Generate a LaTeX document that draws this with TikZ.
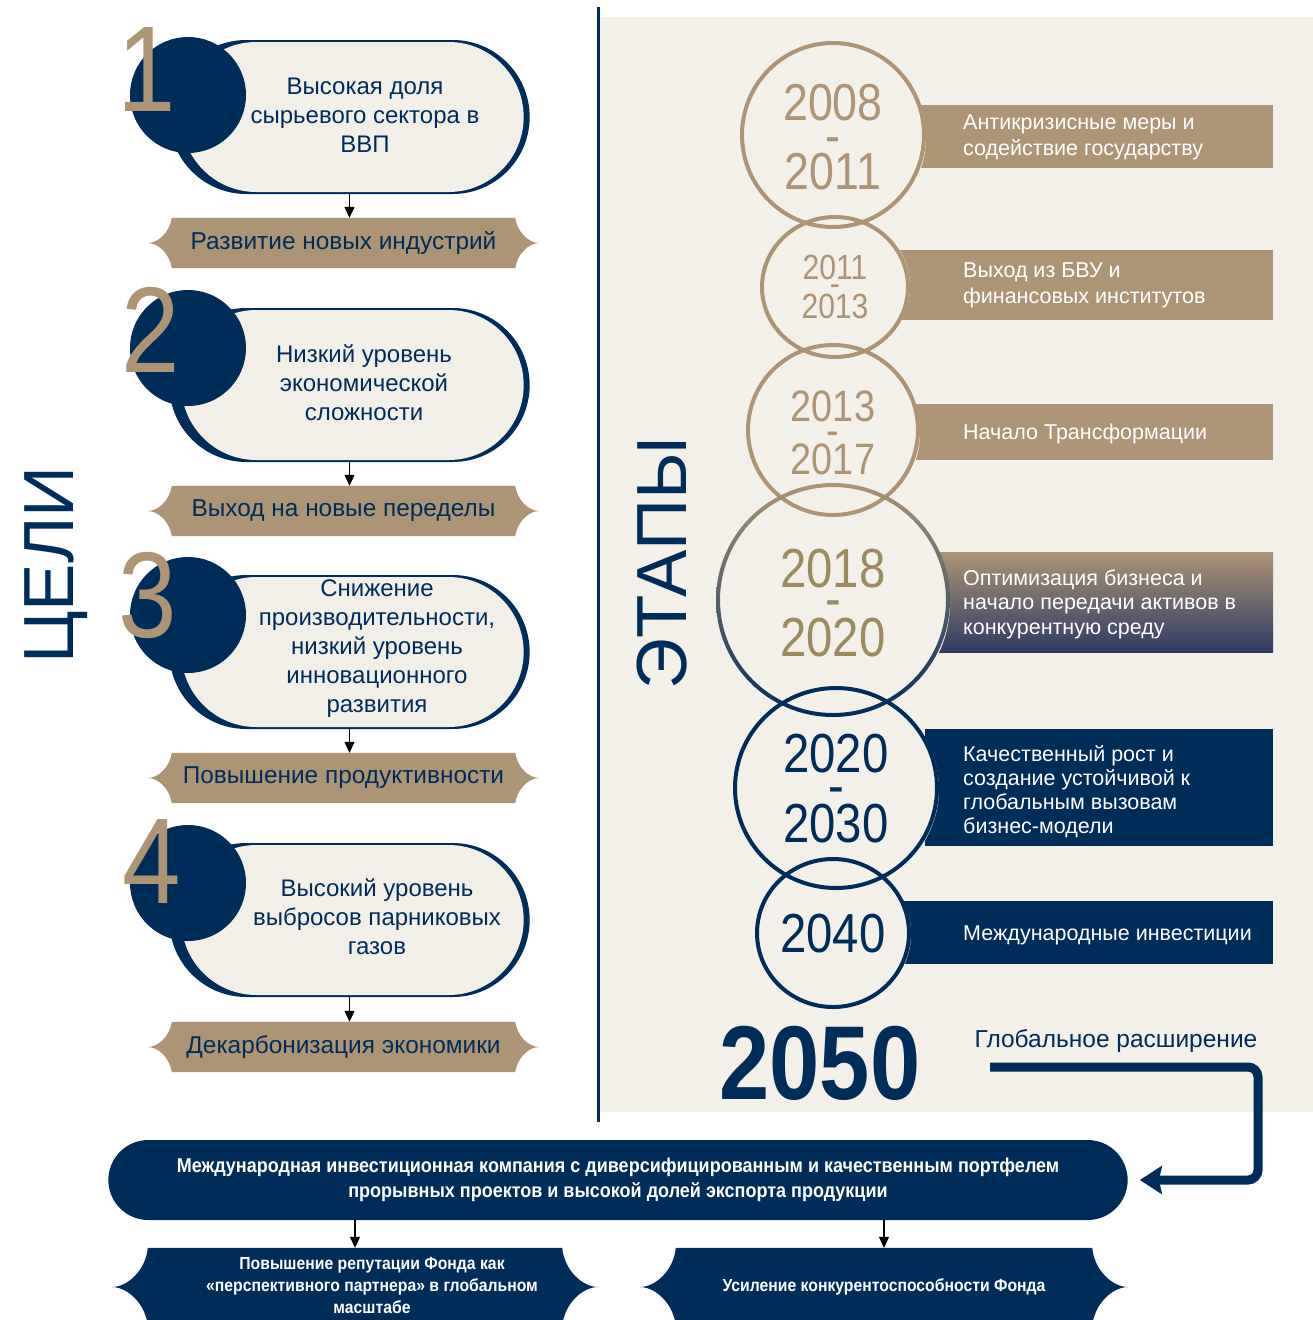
\documentclass[tikz,border=0pt]{standalone}
\usepackage{fontspec}
\setmainfont{Liberation Sans}
\newfontfamily\condfont{Liberation Sans}[FakeStretch=0.9]
\newfontfamily\yearfont{Liberation Sans}[FakeStretch=0.86]
\usepackage{tikz}
\usetikzlibrary{shapes.geometric, shapes.misc, arrows.meta, positioning}

\definecolor{navy}{RGB}{0,44,90}
\definecolor{tan}{RGB}{173,148,116}
\definecolor{cream}{RGB}{243,240,233}
\definecolor{pillfill}{RGB}{242,239,232}
\definecolor{olive}{RGB}{155,139,94}
\definecolor{dusk}{RGB}{46,58,100}

\tikzstyle{heading} = [rotate=90, text=navy, inner sep=0pt, font=\fontsize{71}{71}\selectfont]
\tikzstyle{pillback} = [rounded rectangle, minimum width=367pt, minimum height=154pt, fill=navy]
\tikzstyle{pill} = [rounded rectangle, minimum width=349pt, minimum height=150pt, fill=pillfill]
\tikzstyle{badge} = [circle, minimum size=116pt, inner sep=0pt, fill=navy]
\tikzstyle{digit} = [text=tan, inner sep=0pt, font=\yearfont\fontsize{122}{122}\selectfont]
\tikzstyle{goaltext} = [text=navy, align=center, inner sep=0pt, font={\fontsize{24}{29}\selectfont}]
\tikzstyle{tagbox} = [rectangle, minimum width=343pt, minimum height=50pt, inner sep=0pt]
\tikzstyle{tagtext} = [text=navy, inner sep=0pt, font=\fontsize{24.4}{26}\selectfont]
\tikzstyle{bar} = [rectangle, anchor=west, inner sep=0pt]
\tikzstyle{bartext} = [text=white, align=left, anchor=west, inner sep=0pt, font={\fontsize{21.5}{26}\selectfont}]
\tikzstyle{stage} = [ellipse, fill=cream, inner sep=0pt, align=center]
\tikzstyle{ring} = [line width=4pt]
\tikzstyle{fundbox} = [rounded rectangle, minimum width=1026pt, minimum height=80pt, fill=navy, text=white, align=center, font={\condfont\bfseries\fontsize{20}{25}\selectfont}]
\tikzstyle{navytag} = [rectangle, minimum width=414pt, minimum height=78pt, inner sep=0pt]
\tikzstyle{tagnote} = [text=white, align=center, inner sep=0pt, font={\condfont\bfseries\fontsize{17.5}{22}\selectfont}]
\tikzstyle{arrow} = [line width=1.2pt, -{Triangle[width=10pt,length=11pt]}]
\tikzstyle{looparrow} = [navy, line width=9pt, rounded corners=10pt, -{Stealth[length=22pt,width=28pt,inset=3pt]}]

% banner with pinched ends: node, colour, tip length, bend
\newcommand{\banner}[4]{%
  \fill[#2] (#1.north west) -- (#1.north east)
    .. controls +(2,#4) and +(-#3*0.45,0) .. ([xshift=#3pt]#1.east)
    .. controls +(-#3*0.45,0) and +(2,-#4) .. (#1.south east)
    -- (#1.south west)
    .. controls +(-2,-#4) and +(#3*0.45,0) .. ([xshift=-#3pt]#1.west)
    .. controls +(#3*0.45,0) and +(-2,#4) .. (#1.north west) -- cycle;}

\begin{document}
\begin{tikzpicture}[x=1pt, y=-1pt]
\useasboundingbox (0,0) rectangle (1313,1320);
\clip (0,0) rectangle (1313,1320);
\fill[white] (0,0) rectangle (1313,1320);

% right panel
\fill[cream] (600,17) rectangle (1313,1112);
\draw[navy, line width=3pt] (598,7) -- (598,1122);

\node (goals) [heading] at (56,565) {ЦЕЛИ};
\node (stages) [heading] at (662,563) {ЭТАПЫ};

% goals
\node (pb1) [pillback] at (349.5,117) {};
\node (p1) [pill] at (352.5,117) {};
\node (c1) [badge] at (188,95) {};
\node (n1) [digit] at (147,70) {1};
\node (g1) [goaltext] at (365,115) {Высокая доля\\сырьевого сектора в\\ВВП};
\path node (tag1) [tagbox] at (343.5,243) {};
\banner{tag1}{tan}{24}{14}
\node (tag1t) [tagtext] at (tag1.center) {Развитие новых индустрий};
\draw [arrow] (pb1.south) -- (pb1.south |- tag1.north);

\node (pb2) [pillback] at (349.5,385) {};
\node (p2) [pill] at (352.5,385) {};
\node (c2) [badge] at (188,348) {};
\node (n2) [digit] at (151,330) {2};
\node (g2) [goaltext] at (364,383) {Низкий уровень\\экономической\\сложности};
\path node (tag2) [tagbox] at (343.5,511) {};
\banner{tag2}{tan}{24}{14}
\node (tag2t) [tagtext] at (tag2.center) {Выход на новые переделы};
\draw [arrow] (pb2.south) -- (pb2.south |- tag2.north);

\node (pb3) [pillback] at (349.5,652) {};
\node (p3) [pill] at (352.5,652) {};
\node (c3) [badge] at (188,615) {};
\node (n3) [digit] at (148,595) {3};
\node (g3) [goaltext] at (377,649) {Снижение\\производительности,\\низкий уровень\\инновационного\\развития};
\path node (tag3) [tagbox] at (343.5,778) {};
\banner{tag3}{tan}{24}{14}
\node (tag3t) [tagtext] at (tag3.center) {Повышение продуктивности};
\draw [arrow] (pb3.south) -- (pb3.south |- tag3.north);

\node (pb4) [pillback] at (349.5,920) {};
\node (p4) [pill] at (352.5,920) {};
\node (c4) [badge] at (188,883) {};
\node (n4) [digit] at (152,862) {4};
\node (g4) [goaltext] at (377,917) {Высокий уровень\\выбросов парниковых\\газов};
\path node (tag4) [tagbox] at (343.5,1047) {};
\banner{tag4}{tan}{24}{14}
\node (tag4t) [tagtext] at (tag4.center) {Декарбонизация экономики};
\draw [arrow] (pb4.south) -- (pb4.south |- tag4.north);

% stage bars
\node (b1) [bar, fill=tan, minimum width=368pt, minimum height=63pt] at (905,136.5) {};
\node (b2) [bar, fill=tan, minimum width=383pt, minimum height=70pt] at (890,285) {};
\node (b3) [bar, fill=tan, minimum width=368pt, minimum height=56pt] at (905,432) {};
\node (b4) [bar, top color=tan, bottom color=dusk, minimum width=338pt, minimum height=100pt] at (935,602) {};
\node (b5) [bar, fill=navy, minimum width=348pt, minimum height=117pt] at (925,787.5) {};
\node (b6) [bar, fill=navy, minimum width=378pt, minimum height=63pt] at (895,932.5) {};

\node (s1) [bartext] at (963,137) {Антикризисные меры и\\содействие государству};
\node (s2) [bartext] at (963,285) {Выход из БВУ и\\финансовых институтов};
\node (s3) [bartext] at (963,434) {Начало Трансформации};
\node (s4) [bartext, font={\fontsize{21.5}{24.5}\selectfont}] at (963,604) {Оптимизация бизнеса и\\начало передачи активов в\\конкурентную среду};
\node (s5) [bartext, font={\fontsize{21.5}{24}\selectfont}] at (963,792) {Качественный рост и\\создание устойчивой к\\глобальным вызовам\\бизнес-модели};
\node (s6) [bartext] at (963,935) {Международные инвестиции};

% stage circles
\node (e1) [stage, minimum width=186pt, minimum height=188pt, text=tan, font={\yearfont\fontsize{52}{34.5}\selectfont\lineskiplimit=-100pt}] at (833,137.5) {2008\\[-2pt]-\\[2pt]2011};
\node (e2) [stage, minimum width=150pt, minimum height=144pt, text=tan, font={\yearfont\fontsize{35}{19.5}\selectfont\lineskiplimit=-100pt}] at (835,286.5) {2011\\[-3pt]-\\[3pt]2013};
\node (e3) [stage, minimum width=174pt, minimum height=174pt, text=tan, font={\yearfont\fontsize{44}{26.5}\selectfont\lineskiplimit=-100pt}] at (833,433) {2013\\[-3pt]-\\[3pt]2017};
\node (e4) [stage, minimum width=234pt, minimum height=234pt, text=olive, font={\yearfont\fontsize{55}{34.5}\selectfont\lineskiplimit=-100pt}] at (833,603) {2018\\[-4pt]-\\[4pt]2020};
\node (e5) [stage, minimum width=206pt, minimum height=204pt, text=navy, font={\yearfont\fontsize{55}{35}\selectfont\lineskiplimit=-100pt}] at (836,789) {2020\\[-3pt]-\\[3pt]2030};
\node (e6) [stage, minimum width=156pt, minimum height=152pt, text=navy, font={\yearfont\fontsize{55}{55}\selectfont}] at (833,934) {2040};

\draw[ring, tan] (e1.center) ++(0,-2.5) ellipse (91 and 92);
\draw[ring, tan] (e2.center) ++(0,0.5) ellipse (73 and 70);
\draw[ring, tan] (e3.center) ++(0,-3) ellipse (85 and 85);
\shade[top color=tan, bottom color=navy, even odd rule] (833,600) ellipse (117 and 117) (833,600) ellipse (113 and 113);
\draw[ring, navy] (e5.center) ++(0,-1) ellipse (101 and 100);
\draw[ring, navy] (e6.center) ++(0,-1) ellipse (76 and 74);

% 2050
\node (y2050) [text=navy, inner sep=0pt, font={\yearfont\bfseries\fontsize{105}{105}\selectfont}] at (820,1063) {2050};
\node (glob) [text=navy, inner sep=0pt, font={\fontsize{24.5}{24}\selectfont}] at (1116,1041) {Глобальное расширение};

% result
\node (fund) [fundbox] at (618,1180) {Международная инвестиционная компания с диверсифицированным и качественным портфелем\\прорывных проектов и высокой долей экспорта продукции};
\coordinate (gstart) at (990,1067);
\coordinate (gturn) at (1258,1067);
\draw [looparrow] (gstart) -- (gturn) |- ([xshift=12pt]fund.east);

\path node (ltag) [navytag] at (355,1287) {};
\banner{ltag}{navy}{36}{22}
\node (ltagt) [tagnote] at (372,1286) {Повышение репутации Фонда как\\«перспективного партнера» в глобальном\\масштабе};
\path node (rtag) [navytag, minimum width=416pt] at (884,1287) {};
\banner{rtag}{navy}{36}{22}
\node (rtagt) [tagnote] at (rtag.center) {Усиление конкурентоспособности Фонда};
\draw [arrow] (fund.south -| ltag.north) -- (ltag.north);
\draw [arrow] (fund.south -| rtag.north) -- (rtag.north);

\end{tikzpicture}
\end{document}
